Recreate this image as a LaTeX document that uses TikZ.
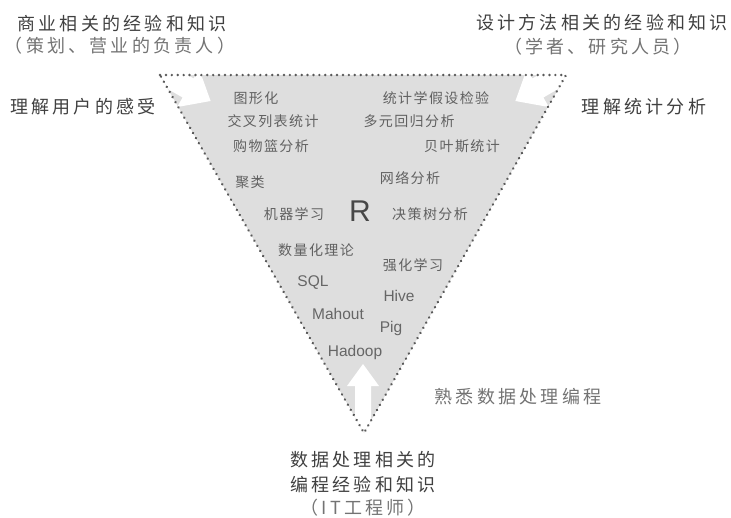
\documentclass[tikz,border=0pt]{standalone}
\usepackage{fontspec}
\setmainfont{Noto Sans CJK SC}
\newfontfamily\bigf[LetterSpace=18]{Noto Sans CJK SC}
\newfontfamily\smf[LetterSpace=10]{Noto Sans CJK SC}
\newfontfamily\latf{Liberation Sans}
\begin{document}
\begin{tikzpicture}[x=1pt,y=-1pt,
  big/.style={font=\bigf\fontsize{18}{20}\selectfont, text=black!75, inner sep=0pt},
  paren/.style={font=\bigf\fontsize{18}{20}\selectfont, text=black!55, inner sep=0pt},
  light/.style={font=\bigf\fontsize{18}{20}\selectfont, text=black!55, inner sep=0pt},
  inner/.style={font=\smf\fontsize{14}{16}\selectfont, text=black!62, inner sep=0pt},
  lat/.style={font=\latf\fontsize{15.5}{17}\selectfont, text=black!60, inner sep=0pt},
  border/.style={draw=black!65, line width=2.6pt, line cap=round, dash pattern=on 0.1pt off 5.8pt},
  warrow/.style={fill=white, draw=none}
]
\useasboundingbox (0,0) rectangle (731,517);

% triangle
\coordinate (TL) at (160,75);
\coordinate (TR) at (566,75);
\coordinate (B) at (364,433);
\fill[black!13] (TL) -- (TR) -- (B) -- cycle;

\begin{scope}
  \clip (TL) -- (TR) -- (B) -- cycle;
  % top-left arrow
  \begin{scope}[shift={(150,66)}, rotate=-30]
    \fill[warrow] (0,-11) -- (44,-11) -- (44,-22) -- (70,0) -- (44,22) -- (44,11) -- (0,11) -- cycle;
  \end{scope}
  % top-right arrow
  \begin{scope}[shift={(576,66)}, rotate=210]
    \fill[warrow] (0,-11) -- (44,-11) -- (44,-22) -- (70,0) -- (44,22) -- (44,11) -- (0,11) -- cycle;
  \end{scope}
  % bottom arrow
  \fill[warrow] (355,445) -- (355,386) -- (347,386) -- (363,364) -- (379,386) -- (371,386) -- (371,445) -- cycle;
\end{scope}

\draw[border] (TL) -- (TR) -- (B) -- cycle;

% outer labels
\node[big] (biz) at (122,24) {商业相关的经验和知识};
\node[paren] (bizp) at (120,46) {（策划、营业的负责人）};
\node[big] (des) at (602,23) {设计方法相关的经验和知识};
\node[paren] (desp) at (598,47) {（学者、研究人员）};
\node[big] (user) at (83,107) {理解用户的感受};
\node[big] (stat) at (644,107) {理解统计分析};
\node[light] (prog) at (518,397) {熟悉数据处理编程};
\node[big] (dp1) at (363,460) {数据处理相关的};
\node[big] (dp2) at (363,485) {编程经验和知识};
\node[paren] (dp3) at (363,508) {（IT工程师）};

% inner labels
\node[inner] (t1) at (256,98) {图形化};
\node[inner] (t2) at (436,98) {统计学假设检验};
\node[inner] (t3) at (273,121) {交叉列表统计};
\node[inner] (t4) at (409,121) {多元回归分析};
\node[inner] (t5) at (271,146) {购物篮分析};
\node[inner] (t6) at (462,146) {贝叶斯统计};
\node[inner] (t7) at (250,182) {聚类};
\node[inner] (t8) at (410,178) {网络分析};
\node[inner] (t9) at (294,214) {机器学习};
\node[font=\latf\fontsize{30}{32}\selectfont, text=black!72, inner sep=0pt] (R) at (360,211) {R};
\node[inner] (t10) at (430,214) {决策树分析};
\node[inner] (t11) at (316,250) {数量化理论};
\node[inner] (t12) at (413,265) {强化学习};
\node[lat] (sql) at (313,283) {SQL};
\node[lat] (hive) at (399,296) {Hive};
\node[lat] (mah) at (338,314) {Mahout};
\node[lat] (pig) at (391,328) {Pig};
\node[lat] (had) at (355,352) {Hadoop};
\end{tikzpicture}
\end{document}
